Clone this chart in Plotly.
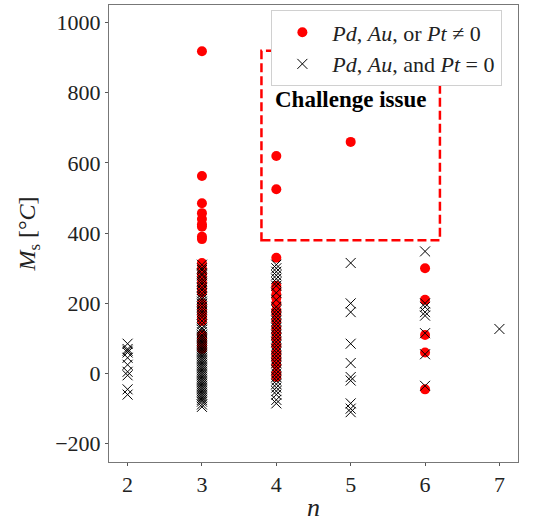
import plotly.graph_objects as go

# Martensite start temperature Ms (°C) grouped by number of alloying elements n
# Alloys containing Pd, Au or Pt
pgm_n = ([3] * 28) + ([4] * 21) + [5] + ([6] * 5)
pgm_ms = [
    918, 563, 485, 457, 440, 425, 418, 390, 383, 315, 300, 285, 275, 260,
    250, 240, 230, 200, 190, 180, 170, 160, 150, 110, 100, 90, 80, 70,
    620, 525, 330, 250, 240, 225, 215, 200, 180, 170, 150, 130, 115, 100,
    80, 60, 50, 40, 25, 0, -10,
    660,
    300, 210, 110, 60, -45,
]

# Alloys free of Pd, Au and Pt
n2_ms = [85, 70, 65, 60, 45, 25, 5, -5, -45, -60]
n3_ms = [
    310, 300, 295, 285, 280, 270, 262, 255, 245, 238, 228, 220, 212, 205,
    198, 190, 182, 175, 168, 160, 150, 140, 130, 125, 118, 110, 105, 100,
    95, 90, 85, 80, 75, 70, 65, 60, 55, 50, 45, 40, 35, 30, 25, 20, 15, 10,
    5, 0, -5, -10, -15, -20, -25, -30, -35, -40, -45, -50, -55, -60, -65,
    -70, -75, -80, -88, -95,
]
n4_ms = [
    310, 300, 290, 280, 270, 260, 250, 230, 210, 190, 180, 170, 160, 150,
    140, 130, 120, 110, 100, 90, 80, 70, 60, 50, 40, 30, 20, 10, 0, -10,
    -20, -30, -40, -50, -60, -75, -85,
]
n5_ms = [315, 200, 175, 85, 30, -10, -20, -85, -100, -110]
n6_ms = [348, 200, 190, 175, 165, 115, 55, -35]
n7_ms = [127]

free_n = ([2] * len(n2_ms) + [3] * len(n3_ms) + [4] * len(n4_ms)
          + [5] * len(n5_ms) + [6] * len(n6_ms) + [7] * len(n7_ms))
free_ms = n2_ms + n3_ms + n4_ms + n5_ms + n6_ms + n7_ms

x_ticks = [2, 3, 4, 5, 6, 7]
y_ticks = [-200, 0, 200, 400, 600, 800, 1000]

# Region highlighted as the open problem
box_n = [3.8, 6.2]
box_ms = [380, 920]
box_label = "Challenge issue"

SERIF = "Liberation Serif"

fig = go.Figure()
fig.add_trace(go.Scatter(
    x=pgm_n, y=pgm_ms, mode="markers",
    name="<i>Pd</i>, <i>Au</i>, or <i>Pt</i> ≠ 0",
    marker=dict(color="#ff0000", size=10, symbol="circle", line=dict(width=0)),
))
fig.add_trace(go.Scatter(
    x=free_n, y=free_ms, mode="markers",
    name="<i>Pd</i>, <i>Au</i>, and <i>Pt</i> = 0",
    marker=dict(color="black", size=10, symbol="x-thin",
                line=dict(color="black", width=1)),
))

fig.add_shape(
    type="rect", xref="x", yref="y",
    x0=box_n[0], x1=box_n[1], y0=box_ms[0], y1=box_ms[1],
    line=dict(color="#ff0000", width=2.5, dash="9px,4px"),
    fillcolor="rgba(0,0,0,0)",
)
fig.add_annotation(
    x=sum(box_n) / 2, y=780, text="<b>" + box_label + "</b>",
    showarrow=False, font=dict(family=SERIF, size=23, color="black"),
)

axis_common = dict(
    showline=True, linecolor="#777777", linewidth=1, mirror=True,
    ticks="outside", ticklen=3, tickcolor="#555555", tickwidth=1,
    showgrid=False, zeroline=False,
    tickfont=dict(family=SERIF, size=22, color="#222222"),
)

fig.update_layout(
    width=549, height=528,
    margin=dict(l=109, r=31, t=5, b=66),
    paper_bgcolor="white", plot_bgcolor="white",
    xaxis=dict(range=[1.75, 7.25], tickvals=x_ticks,
               title=dict(text="<i>n</i>", font=dict(family=SERIF, size=26, color="#222222"),
                          standoff=1),
               **axis_common),
    yaxis=dict(range=[-252, 1050], tickvals=y_ticks,
               title=dict(text="<i>M</i><sub>s</sub> [°<i>C</i>]",
                          font=dict(family=SERIF, size=24, color="#222222"),
                          standoff=12),
               **axis_common),
    legend=dict(
        x=0.397, y=0.988, xanchor="left", yanchor="top",
        bgcolor="white", bordercolor="#d0d0d0", borderwidth=1,
        font=dict(family=SERIF, size=22, color="#222222"),
        itemwidth=50, tracegroupgap=0,
    ),
    showlegend=True,
)

fig.write_html("out.html")
